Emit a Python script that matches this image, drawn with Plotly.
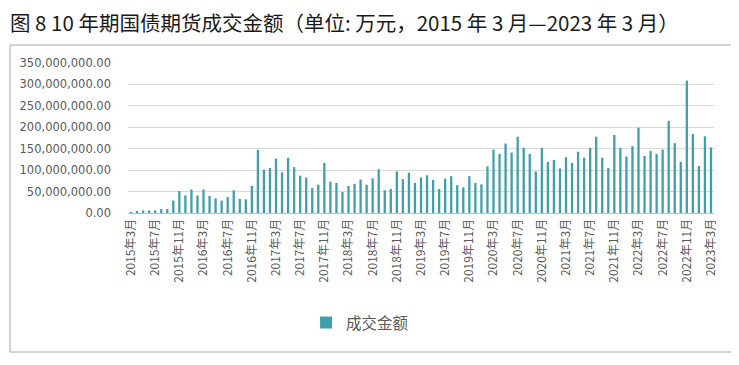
import plotly.graph_objects as go

# Monthly categories, 2015-03 .. 2023-03
months = [f"{y}年{m}月" for y in range(2015, 2024) for m in range(1, 13)
          if (y, m) >= (2015, 3) and (y, m) <= (2023, 3)]

# 成交金额 (万元)
turnover = [
    2000000, 4000000, 6000000, 6000000, 6000000, 9000000, 9000000, 29000000,
    51000000, 41000000, 55000000, 41000000, 55000000, 40000000, 34000000, 29000000,
    37000000, 53000000, 33000000, 32000000, 63000000, 147000000, 101000000, 105000000,
    127000000, 95000000, 129000000, 107000000, 87000000, 83000000, 58000000, 66000000,
    117000000, 73000000, 70000000, 49000000, 63000000, 68000000, 78000000, 66000000,
    81000000, 102000000, 53000000, 56000000, 97000000, 79000000, 94000000, 70000000,
    83000000, 88000000, 77000000, 56000000, 80000000, 86000000, 65000000, 60000000,
    86000000, 70000000, 67000000, 109000000, 148000000, 138000000, 162000000, 141000000,
    178000000, 152000000, 138000000, 97000000, 152000000, 119000000, 124000000, 104000000,
    130000000, 117000000, 143000000, 129000000, 152000000, 178000000, 129000000, 105000000,
    182000000, 152000000, 132000000, 156000000, 199000000, 133000000, 145000000, 138000000,
    148000000, 215000000, 163000000, 119000000, 309000000, 184000000, 110000000, 179000000,
    153000000,
]

tick_labels = months[::4]
series_name = "成交金额"
title_text = "图 8 10 年期国债期货成交金额（单位: 万元，2015 年 3 月—2023 年 3 月）"

FONT = "Noto Sans CJK SC"
BAR = "#3F9FAD"

fig = go.Figure()
fig.add_trace(go.Bar(
    x=months, y=turnover, name=series_name,
    marker=dict(color=BAR, line=dict(width=0)),
    showlegend=True,
))

fig.update_layout(
    width=739, height=365,
    margin=dict(l=120, r=33, t=55, b=160),
    paper_bgcolor="white", plot_bgcolor="white",
    font=dict(family=FONT, color="#595959", size=12),
    bargap=0.62,
    title=dict(text=title_text, x=0.0027, xanchor="left", xref="container",
               y=0.957, yanchor="middle", yref="container",
               font=dict(family=FONT, size=20.5, color="#1a1a1a")),
    legend=dict(orientation="h", x=0.396, xanchor="center", y=-0.733, yanchor="middle",
                font=dict(family=FONT, size=15.5, color="#595959"),
                itemwidth=30, bgcolor="rgba(0,0,0,0)"),
    shapes=[dict(type="rect", xref="paper", yref="paper",
                 x0=-0.2014, x1=1.0307, y0=-0.9267, y1=1.12,
                 line=dict(color="#A6A6A6", width=1), fillcolor="rgba(0,0,0,0)",
                 layer="below")],
)

fig.update_xaxes(
    type="category", tickmode="array", tickvals=tick_labels, ticktext=tick_labels,
    tickangle=-90, tickfont=dict(family=FONT, size=12, color="#595959"),
    showgrid=False, showline=True, linecolor="#BFBFBF", linewidth=1,
    ticks="", range=[-0.5, len(months) - 0.5],
)
fig.update_yaxes(
    range=[0, 350000000], dtick=50000000, tickformat=",.2f",
    showgrid=True, gridcolor="#D9D9D9", gridwidth=1,
    zeroline=False, showline=False, ticks="",
    tickfont=dict(family="DejaVu Sans", size=11.5, color="#595959"),
    ticklabelstandoff=16,
)

fig.write_html("out.html")
